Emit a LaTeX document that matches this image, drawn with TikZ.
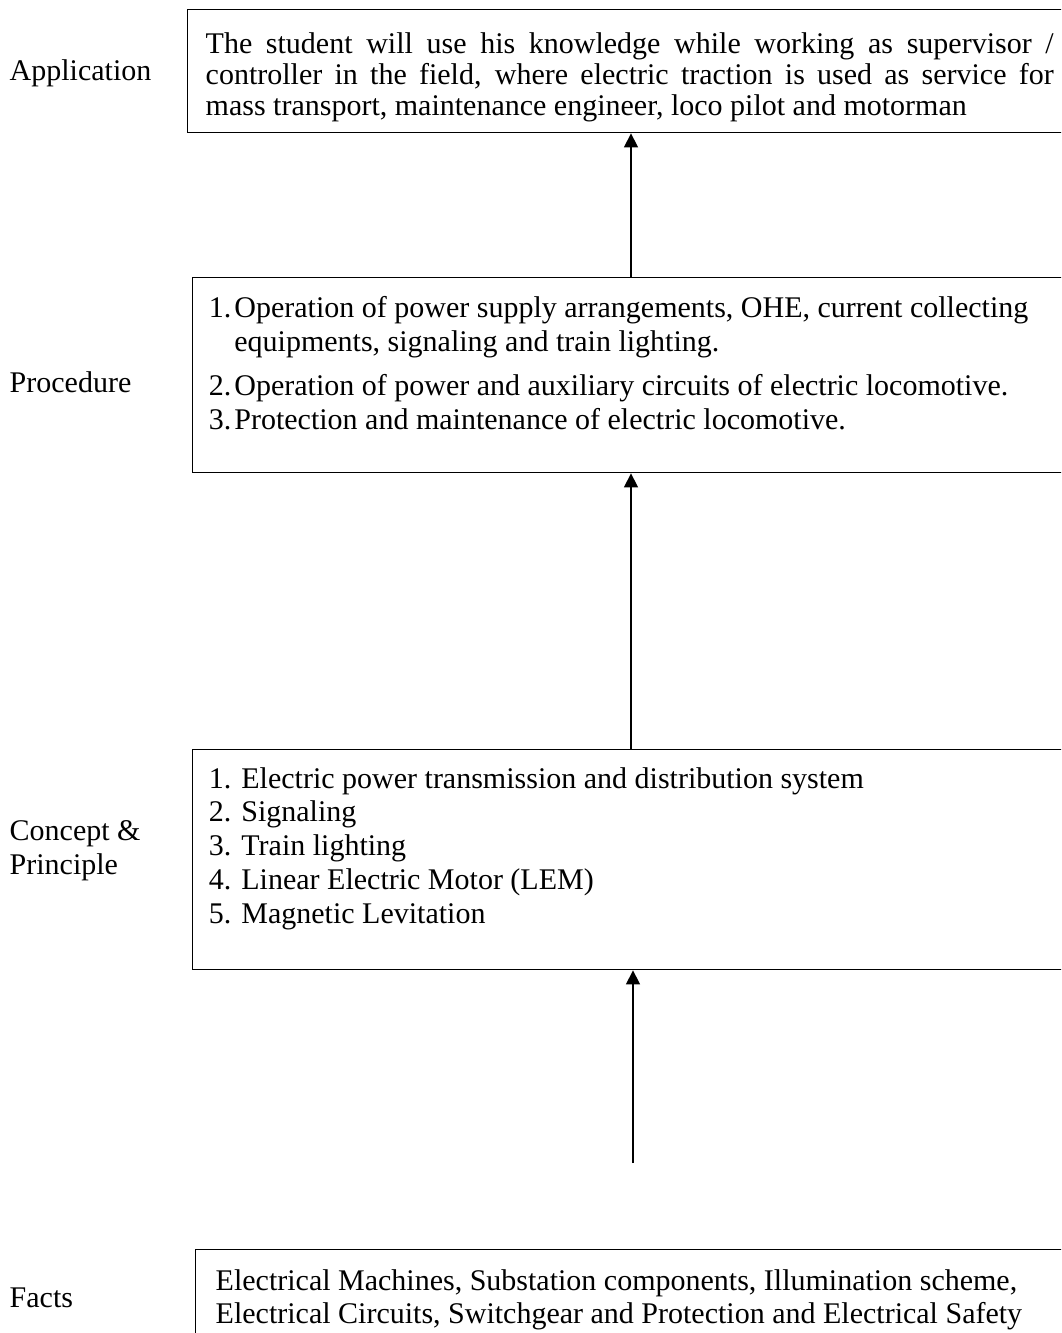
\documentclass[tikz,border=0pt]{standalone}
\usepackage{fontspec}
\setmainfont{Liberation Serif}
\usetikzlibrary{arrows.meta}
\begin{document}
\begin{tikzpicture}[x=1pt,y=-1pt,
  frame/.style={draw, line width=1.4pt, inner sep=0pt, anchor=north west, minimum width=890pt},
  txt/.style={anchor=north west, inner sep=0pt, align=left},
  lbl/.style={anchor=north west, inner sep=0pt, align=left, font=\fontsize{30}{34}\selectfont},
  arr/.style={line width=1.4pt, -{Triangle[width=14pt,length=14pt]}}
]
\useasboundingbox (0,0) rectangle (1061,1333);
\clip (0,0) rectangle (1061,1333);
% boxes
\node[frame, minimum height=123pt] (b1) at (187,9) {};
\node[frame, minimum height=195pt] (b2) at (192,277) {};
\node[frame, minimum height=220pt] (b3) at (192,749) {};
\node[frame, minimum height=130pt] (b4) at (195,1249) {};
% box texts
\node[txt, text width=848pt, align=justify, font=\fontsize{30}{31}\selectfont]
  (t1) at (205.5,31.5) {\hyphenpenalty=10000\relax\strut The student will use his knowledge while working as supervisor /\linebreak
  controller in the field, where electric traction is used as service for\linebreak
  mass transport, maintenance engineer, loco pilot and motorman};
\node[txt, font=\fontsize{30}{34}\selectfont] (t2) at (208.7,293)
  {\strut\makebox[25.5pt][l]{1.}Operation of power supply arrangements, OHE, current collecting\\
   \hspace*{25.5pt}equipments, signaling and train lighting.\\[10pt]
   \makebox[25.5pt][l]{2.}Operation of power and auxiliary circuits of electric locomotive.\\
   \makebox[25.5pt][l]{3.}Protection and maintenance of electric locomotive.};
\node[txt, font=\fontsize{30}{33.75}\selectfont] (t3) at (208.7,764.4)
  {\strut 1. Electric power transmission and distribution system\\
   2. Signaling\\
   3. Train lighting\\
   4. Linear Electric Motor (LEM)\\
   5. Magnetic Levitation};
\node[txt, font=\fontsize{30}{33}\selectfont] (t4) at (215.5,1266.9)
  {\strut Electrical Machines, Substation components, Illumination scheme,\\
   Electrical Circuits, Switchgear and Protection and Electrical Safety};
% level labels
\node[lbl] (l1) at (9.5,56.2) {\strut Application};
\node[lbl] (l2) at (9.5,368.2) {\strut Procedure};
\node[lbl] (l3) at (9.5,816.2) {\strut Concept \&\\Principle};
\node[lbl] (l4) at (9.5,1283.2) {\strut Facts};
% arrows
\coordinate (ax) at (631,0);
\coordinate (f0) at (633,1163);
\draw[arr] (ax |- b2.north) -- (ax |- b1.south);
\draw[arr] (ax |- b3.north) -- (ax |- b2.south);
\draw[arr] (f0) -- (f0 |- b3.south);
\end{tikzpicture}
\end{document}
